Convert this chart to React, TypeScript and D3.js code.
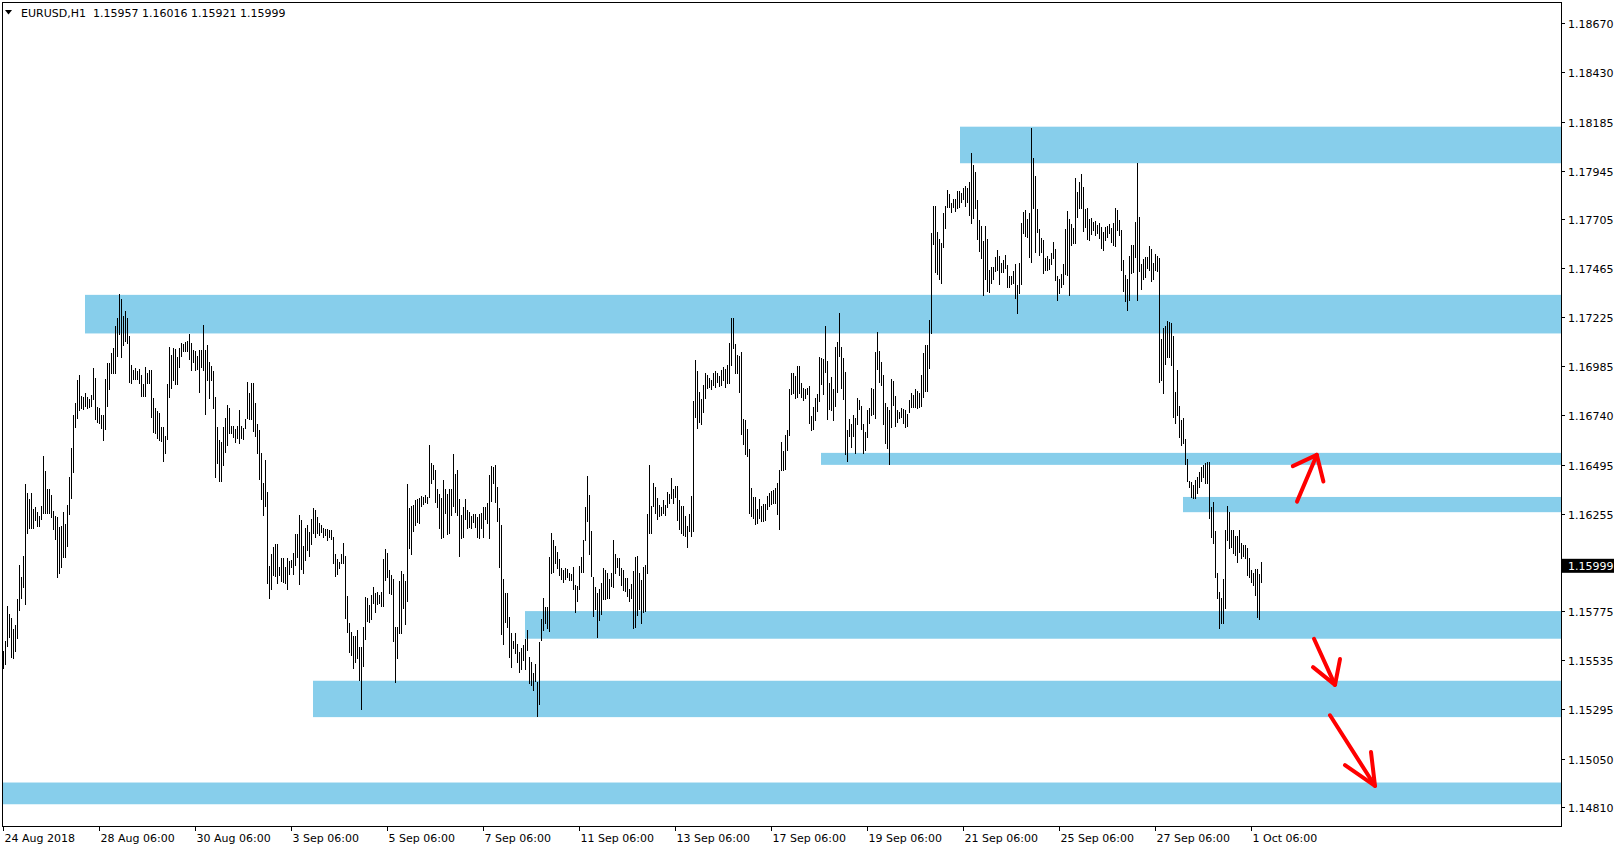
import React from 'react';
import * as d3 from 'd3';

const symbolTitle = 'EURUSD,H1';
const lastOHLC = [1.15957, 1.16016, 1.15921, 1.15999];
const lastPrice = 1.15999;

const highs = [
1.15580,1.15630,1.15801,1.15761,1.15741,1.15686,1.15706,1.15836,1.16002,1.15942,
1.16047,1.16403,1.16358,1.16328,1.16358,1.16278,1.16288,1.16263,1.16243,1.16293,
1.16540,1.16465,1.16378,1.16378,1.16348,1.16268,1.16243,1.16238,1.16188,1.16193,
1.16263,1.16203,1.16298,1.16435,1.16580,1.16741,1.16801,1.16916,1.16937,1.16836,
1.16831,1.16851,1.16831,1.16821,1.16841,1.16972,1.16922,1.16781,1.16776,1.16741,
1.16741,1.16917,1.16997,1.16997,1.17047,1.17072,1.17178,1.17218,1.17338,1.17313,
1.17228,1.17253,1.17218,1.17132,1.16987,1.16962,1.16972,1.16957,1.16967,1.16937,
1.16896,1.16977,1.16947,1.16962,1.16962,1.16826,1.16776,1.16761,1.16751,1.16681,
1.16681,1.16640,1.16896,1.17077,1.17037,1.17072,1.17067,1.17027,1.17072,1.17097,
1.17092,1.17102,1.17107,1.17142,1.17097,1.17062,1.17057,1.17032,1.17062,1.17062,
1.17183,1.17062,1.17087,1.17002,1.16982,1.16957,1.16831,1.16681,1.16620,1.16610,
1.16681,1.16726,1.16791,1.16776,1.16686,1.16686,1.16671,1.16686,1.16766,1.16686,
1.16676,1.16721,1.16906,1.16851,1.16901,1.16901,1.16801,1.16696,1.16666,1.16555,
1.16408,1.16520,1.16363,1.15997,1.16057,1.16092,1.16107,1.16107,1.15992,1.16037,
1.16037,1.15992,1.16037,1.16022,1.16027,1.16062,1.16157,1.16157,1.16248,1.16223,
1.16097,1.16187,1.16198,1.16167,1.16228,1.16283,1.16273,1.16238,1.16208,1.16198,
1.16183,1.16178,1.16178,1.16173,1.16173,1.16142,1.16057,1.16032,1.16017,1.16057,
1.16112,1.16047,1.15851,1.15716,1.15675,1.15655,1.15655,1.15685,1.15600,1.15600,
1.15696,1.15846,1.15841,1.15806,1.15856,1.15896,1.15866,1.15871,1.15856,1.15871,
1.16032,1.16082,1.16062,1.15977,1.15952,1.15932,1.15696,1.15696,1.15926,1.15972,
1.15957,1.15926,1.16403,1.16283,1.16293,1.16298,1.16323,1.16328,1.16333,1.16343,
1.16338,1.16348,1.16338,1.16595,1.16505,1.16495,1.16470,1.16378,1.16353,1.16333,
1.16423,1.16378,1.16353,1.16378,1.16378,1.16550,1.16450,1.16470,1.16328,1.16248,
1.16288,1.16328,1.16273,1.16263,1.16243,1.16253,1.16253,1.16238,1.16253,1.16258,
1.16288,1.16288,1.16308,1.16445,1.16490,1.16485,1.16495,1.16388,1.16283,1.16198,
1.15932,1.15866,1.15866,1.15746,1.15670,1.15630,1.15670,1.15615,1.15575,1.15595,
1.15610,1.15640,1.15685,1.15550,1.15525,1.15470,1.15515,1.15428,1.15625,1.15736,
1.15841,1.15796,1.15796,1.16042,1.16162,1.16127,1.16097,1.16067,1.16032,1.15987,
1.15977,1.15987,1.15982,1.15962,1.15957,1.15992,1.15906,1.15901,1.15997,1.16042,
1.16127,1.16288,1.16440,1.16348,1.16172,1.15942,1.15896,1.15866,1.15886,1.15916,
1.15987,1.15977,1.15962,1.15932,1.15962,1.16127,1.16057,1.16037,1.16037,1.15987,
1.15977,1.15937,1.15937,1.15886,1.15911,1.15972,1.16042,1.16047,1.15962,1.15927,
1.15992,1.16002,1.16253,1.16495,1.16293,1.16408,1.16388,1.16333,1.16298,1.16288,
1.16323,1.16298,1.16363,1.16353,1.16430,1.16378,1.16393,1.16393,1.16323,1.16293,
1.16293,1.16243,1.16193,1.16253,1.16343,1.16811,1.17012,1.16957,1.16856,1.16821,
1.16891,1.16947,1.16937,1.16922,1.16916,1.16947,1.16957,1.16947,1.16932,1.16962,
1.16977,1.16967,1.16987,1.17097,1.17218,1.17218,1.17092,1.17037,1.17032,1.17052,
1.16721,1.16716,1.16671,1.16575,1.16383,1.16338,1.16338,1.16278,1.16328,1.16293,
1.16303,1.16303,1.16343,1.16358,1.16368,1.16373,1.16383,1.16408,1.16470,1.16610,
1.16565,1.16645,1.16666,1.16871,1.16947,1.16947,1.16932,1.16982,1.16982,1.16901,
1.16876,1.16871,1.16876,1.16886,1.16736,1.16781,1.16826,1.16846,1.17027,1.17022,
1.17017,1.17178,1.17007,1.16901,1.16927,1.16871,1.17077,1.17102,1.17243,1.17077,
1.17022,1.16952,1.16666,1.16721,1.16696,1.16741,1.16726,1.16826,1.16816,1.16786,
1.16696,1.16660,1.16766,1.16776,1.16876,1.16871,1.17052,1.17152,1.17057,1.17002,
1.16937,1.16801,1.16781,1.16766,1.16917,1.16911,1.16836,1.16766,1.16756,1.16776,
1.16771,1.16766,1.16746,1.16816,1.16851,1.16841,1.16871,1.16861,1.16851,1.16937,
1.17047,1.17087,1.17087,1.17208,1.17639,1.17770,1.17770,1.17644,1.17609,1.17589,
1.17735,1.17770,1.17850,1.17830,1.17785,1.17805,1.17805,1.17845,1.17845,1.17835,
1.17860,1.17871,1.17860,1.17891,1.18031,1.17971,1.17936,1.17800,1.17700,1.17670,
1.17599,1.17670,1.17609,1.17454,1.17469,1.17469,1.17519,1.17554,1.17524,1.17489,
1.17504,1.17529,1.17479,1.17424,1.17424,1.17449,1.17484,1.17383,1.17489,1.17685,
1.17740,1.17750,1.17705,1.17735,1.18156,1.18006,1.17916,1.17755,1.17659,1.17614,
1.17604,1.17514,1.17524,1.17509,1.17539,1.17594,1.17559,1.17424,1.17409,1.17434,
1.17484,1.17659,1.17745,1.17705,1.17680,1.17660,1.17906,1.17840,1.17890,1.17926,
1.17865,1.17755,1.17760,1.17705,1.17710,1.17690,1.17695,1.17675,1.17685,1.17665,
1.17644,1.17665,1.17670,1.17680,1.17660,1.17685,1.17760,1.17750,1.17700,1.17654,
1.17504,1.17429,1.17409,1.17524,1.17579,1.17579,1.17690,1.17981,1.17715,1.17484,
1.17509,1.17519,1.17519,1.17574,1.17559,1.17489,1.17534,1.17524,1.17514,1.17117,
1.17168,1.17178,1.17203,1.17198,1.17193,1.17132,1.16856,1.16962,1.16786,1.16716,
1.16726,1.16625,1.16525,1.16418,1.16413,1.16398,1.16423,1.16435,1.16460,1.16485,
1.16495,1.16505,1.16510,1.16510,1.16288,1.16313,1.16172,1.15962,1.15871,1.15841,
1.15932,1.16177,1.16293,1.16263,1.16177,1.16177,1.16147,1.16147,1.16177,1.16112,
1.16102,1.16102,1.16087,1.16037,1.15977,1.15962,1.15982,1.15982,1.15957,1.16016
];

const lows = [
1.15495,1.15515,1.15605,1.15650,1.15550,1.15545,1.15580,1.15645,1.15781,1.15841,
1.15896,1.15811,1.16162,1.16183,1.16183,1.16183,1.16223,1.16193,1.16193,1.16228,
1.16258,1.16258,1.16258,1.16258,1.16238,1.16178,1.16132,1.15942,1.15962,1.15992,
1.16042,1.16042,1.16097,1.16253,1.16333,1.16460,1.16681,1.16726,1.16766,1.16776,
1.16771,1.16786,1.16776,1.16781,1.16786,1.16821,1.16721,1.16706,1.16701,1.16676,
1.16620,1.16671,1.16786,1.16871,1.16947,1.16947,1.16947,1.17032,1.17142,1.17027,
1.17087,1.17107,1.17097,1.16906,1.16901,1.16917,1.16917,1.16917,1.16901,1.16836,
1.16836,1.16836,1.16901,1.16901,1.16731,1.16660,1.16655,1.16630,1.16620,1.16615,
1.16515,1.16555,1.16625,1.16831,1.16876,1.16912,1.16896,1.16896,1.16977,1.17032,
1.17057,1.17057,1.17057,1.17017,1.16962,1.17002,1.16962,1.16967,1.16856,1.16977,
1.16962,1.16746,1.16912,1.16826,1.16912,1.16776,1.16435,1.16505,1.16418,1.16418,
1.16495,1.16560,1.16595,1.16655,1.16655,1.16635,1.16610,1.16630,1.16605,1.16630,
1.16625,1.16676,1.16726,1.16721,1.16721,1.16665,1.16640,1.16555,1.16425,1.16328,
1.16248,1.16293,1.15916,1.15841,1.15886,1.15952,1.15947,1.15916,1.15952,1.15926,
1.15921,1.15916,1.15886,1.15957,1.15992,1.15957,1.16002,1.16042,1.15911,1.15982,
1.15962,1.16027,1.16077,1.16047,1.16107,1.16162,1.16142,1.16162,1.16152,1.16167,
1.16142,1.16152,1.16127,1.16142,1.16132,1.16012,1.15947,1.15957,1.15987,1.16012,
1.16012,1.15741,1.15675,1.15575,1.15560,1.15495,1.15525,1.15545,1.15438,1.15293,
1.15505,1.15640,1.15726,1.15721,1.15736,1.15816,1.15771,1.15811,1.15816,1.15801,
1.15801,1.15931,1.15942,1.15866,1.15861,1.15630,1.15428,1.15545,1.15670,1.15670,
1.15791,1.15711,1.15826,1.16087,1.16057,1.16172,1.16198,1.16213,1.16208,1.16293,
1.16303,1.16313,1.16308,1.16338,1.16408,1.16425,1.16313,1.16288,1.16183,1.16137,
1.16142,1.16258,1.16157,1.16162,1.16248,1.16293,1.16263,1.16248,1.16047,1.16137,
1.16142,1.16228,1.16183,1.16188,1.16183,1.16213,1.16188,1.16142,1.16137,1.16183,
1.16142,1.16228,1.16208,1.16137,1.16318,1.16408,1.16313,1.16218,1.15992,1.15665,
1.15615,1.15721,1.15696,1.15550,1.15500,1.15595,1.15570,1.15525,1.15475,1.15490,
1.15535,1.15490,1.15585,1.15423,1.15413,1.15388,1.15433,1.15258,1.15318,1.15635,
1.15681,1.15716,1.15691,1.15676,1.15962,1.15967,1.16012,1.15987,1.15952,1.15932,
1.15921,1.15932,1.15942,1.15927,1.15927,1.15886,1.15771,1.15826,1.15886,1.15967,
1.15967,1.16127,1.16218,1.16057,1.15947,1.15751,1.15786,1.15650,1.15731,1.15761,
1.15836,1.15836,1.15841,1.15841,1.15901,1.15896,1.15962,1.15992,1.15952,1.15906,
1.15881,1.15876,1.15851,1.15826,1.15841,1.15691,1.15696,1.15756,1.15786,1.15716,
1.15771,1.15776,1.15962,1.16162,1.16162,1.16293,1.16258,1.16228,1.16243,1.16248,
1.16258,1.16248,1.16288,1.16308,1.16333,1.16308,1.16338,1.16223,1.16178,1.16162,
1.16152,1.16147,1.16092,1.16172,1.16147,1.16172,1.16731,1.16676,1.16706,1.16696,
1.16756,1.16826,1.16876,1.16881,1.16871,1.16891,1.16881,1.16906,1.16886,1.16891,
1.16916,1.16881,1.16901,1.16901,1.16987,1.17072,1.16947,1.16947,1.16856,1.16650,
1.16600,1.16550,1.16540,1.16258,1.16243,1.16233,1.16203,1.16208,1.16233,1.16218,
1.16218,1.16223,1.16278,1.16293,1.16303,1.16308,1.16308,1.16253,1.16178,1.16470,
1.16470,1.16475,1.16570,1.16645,1.16846,1.16851,1.16826,1.16831,1.16851,1.16831,
1.16816,1.16826,1.16846,1.16701,1.16666,1.16671,1.16716,1.16761,1.16811,1.16896,
1.16846,1.16952,1.16721,1.16771,1.16766,1.16716,1.16786,1.16856,1.17032,1.16876,
1.16821,1.16550,1.16515,1.16640,1.16585,1.16640,1.16555,1.16696,1.16771,1.16671,
1.16555,1.16570,1.16635,1.16701,1.16741,1.16746,1.16726,1.16967,1.16906,1.16891,
1.16696,1.16605,1.16580,1.16500,1.16681,1.16791,1.16686,1.16706,1.16726,1.16731,
1.16701,1.16681,1.16686,1.16756,1.16781,1.16781,1.16781,1.16776,1.16781,1.16786,
1.16831,1.16861,1.16861,1.16972,1.17147,1.17584,1.17444,1.17434,1.17409,1.17393,
1.17569,1.17660,1.17765,1.17765,1.17740,1.17765,1.17745,1.17760,1.17765,1.17790,
1.17805,1.17770,1.17790,1.17725,1.17685,1.17710,1.17760,1.17610,1.17549,1.17514,
1.17333,1.17409,1.17353,1.17348,1.17393,1.17409,1.17449,1.17454,1.17388,1.17444,
1.17444,1.17464,1.17373,1.17373,1.17388,1.17393,1.17318,1.17243,1.17343,1.17388,
1.17639,1.17624,1.17619,1.17519,1.17494,1.17760,1.17544,1.17644,1.17529,1.17544,
1.17439,1.17454,1.17454,1.17459,1.17484,1.17514,1.17404,1.17308,1.17343,1.17373,
1.17388,1.17434,1.17429,1.17333,1.17579,1.17589,1.17589,1.17715,1.17760,1.17760,
1.17645,1.17665,1.17609,1.17604,1.17634,1.17650,1.17629,1.17640,1.17614,1.17564,
1.17554,1.17604,1.17619,1.17639,1.17594,1.17579,1.17574,1.17650,1.17629,1.17454,
1.17353,1.17303,1.17258,1.17308,1.17439,1.17444,1.17519,1.17308,1.17449,1.17363,
1.17409,1.17419,1.17464,1.17454,1.17399,1.17409,1.17454,1.17449,1.16906,1.16912,
1.16851,1.16992,1.17027,1.17027,1.16987,1.16731,1.16701,1.16741,1.16635,1.16595,
1.16605,1.16500,1.16418,1.16388,1.16338,1.16333,1.16333,1.16358,1.16388,1.16418,
1.16435,1.16408,1.16408,1.16233,1.16142,1.16112,1.15942,1.15841,1.15691,1.15716,
1.15716,1.15791,1.16127,1.16087,1.16092,1.16062,1.16052,1.16017,1.16067,1.16037,
1.16047,1.16037,1.15952,1.15942,1.15921,1.15906,1.15856,1.15746,1.15736,1.15921
];

const priceTicks = [1.18670, 1.18430, 1.18185, 1.17945, 1.17705, 1.17465, 1.17225, 1.16985, 1.16740, 1.16495, 1.16255, 1.15775, 1.15535, 1.15295, 1.15050, 1.14810];

const timeTickBars = [0, 48, 96, 144, 192, 240, 288, 336, 384, 432, 480, 528, 576, 624];
const timeTickLabels = ['24 Aug 2018', '28 Aug 06:00', '30 Aug 06:00', '3 Sep 06:00', '5 Sep 06:00', '7 Sep 06:00', '11 Sep 06:00', '13 Sep 06:00', '17 Sep 06:00', '19 Sep 06:00', '21 Sep 06:00', '25 Sep 06:00', '27 Sep 06:00', '1 Oct 06:00'];

// support / resistance zones: start bar, upper price, lower price
const zoneStartBars = [478.5, 41, 409, 590, 261, 155, -0.5];
const zoneTops = [1.18161, 1.17333, 1.16555, 1.16338, 1.15776, 1.15433, 1.14932];
const zoneBottoms = [1.17981, 1.17143, 1.16496, 1.16263, 1.15640, 1.15254, 1.14825];

// hand drawn arrows: [tail, tip, barbA, barbB] as [bar, price]
const arrow1 = [[647, 1.16315], [656.9, 1.16545], [644.9, 1.16490], [660.2, 1.16414]];
const arrow2 = [[655.5, 1.15640], [666, 1.15413], [655, 1.15500], [668.5, 1.15540]];
const arrow3 = [[663.5, 1.15263], [686, 1.14915], [671, 1.15018], [684, 1.15082]];
const arrows = [arrow1, arrow2, arrow3];

const FONT = '"DejaVu Sans", Verdana, sans-serif';

export default function App() {
  const W = 1621, H = 850;
  const left = 2, right = 1561, top = 2, bottom = 826;
  const n = highs.length;
  const x = d3.scaleLinear().domain([0, n - 1]).range([3, 3 + 2 * (n - 1)]);
  const y = d3.scaleLinear().domain([1.14810, 1.18670]).range([807.3, 23.3]);

  const barPath = highs
    .map((h, i) => {
      const yh = Math.round(y(h));
      const yl = Math.max(Math.round(y(lows[i])), yh) + 1;
      return `M${x(i) + 0.5},${yh}V${yl}`;
    })
    .join('');

  const lastY = y(lastPrice);
  const ohlcText = lastOHLC.map((v) => v.toFixed(5)).join(' ');

  return (
    <svg width={W} height={H} style={{ position: 'absolute', left: 0, top: 0, background: '#fff' }} fontFamily={FONT}>
      <rect x={0} y={0} width={W} height={H} fill="#fff" />
      {zoneStartBars.map((s, i) => {
        const x0 = Math.max(left, x(s));
        const y0 = y(zoneTops[i]);
        const y1 = y(zoneBottoms[i]);
        return <rect key={'z' + i} x={x0} y={y0} width={right - x0} height={y1 - y0} fill="#87CEEB" />;
      })}
      <path d={barPath} stroke="#000" strokeWidth={1} fill="none" shapeRendering="crispEdges" />
      {arrows.map((a, i) => {
        const p = a.map(([b, v]) => [x(b), y(v)]);
        return (
          <g key={'a' + i} stroke="#FF0000" strokeWidth={4} fill="none" strokeLinecap="round" strokeLinejoin="round">
            <line x1={p[0][0]} y1={p[0][1]} x2={p[1][0]} y2={p[1][1]} />
            <polyline points={`${p[2][0]},${p[2][1]} ${p[1][0]},${p[1][1]} ${p[3][0]},${p[3][1]}`} />
          </g>
        );
      })}
      <rect x={left + 0.5} y={top + 0.5} width={right - left} height={bottom - top} fill="none" stroke="#000" strokeWidth={1} shapeRendering="crispEdges" />
      {priceTicks.map((p, i) => {
        const ty = Math.round(y(p)) + 0.5;
        return (
          <g key={'py' + i}>
            <line x1={right} x2={right + 4} y1={ty} y2={ty} stroke="#000" shapeRendering="crispEdges" />
            <text x={1568} y={ty + 4} fontSize={11} fill="#000">{p.toFixed(5)}</text>
          </g>
        );
      })}
      <rect x={1562} y={lastY - 7} width={52} height={14} fill="#000" />
      <text x={1568} y={lastY + 4} fontSize={11} fill="#fff">{lastPrice.toFixed(5)}</text>
      {timeTickBars.map((b, i) => {
        const tx = Math.round(x(b)) + 0.5;
        return (
          <g key={'tx' + i}>
            <line x1={tx} x2={tx} y1={bottom} y2={bottom + 5} stroke="#000" shapeRendering="crispEdges" />
            <text x={tx + 1} y={842} fontSize={11} fill="#000">{timeTickLabels[i]}</text>
          </g>
        );
      })}
      <path d="M5,10 L12,10 L8.5,14.5 Z" fill="#000" />
      <text y={17} fontSize={11} fill="#000">
        <tspan x={21}>{symbolTitle}</tspan>
        <tspan x={93}>{ohlcText}</tspan>
      </text>
    </svg>
  );
}
